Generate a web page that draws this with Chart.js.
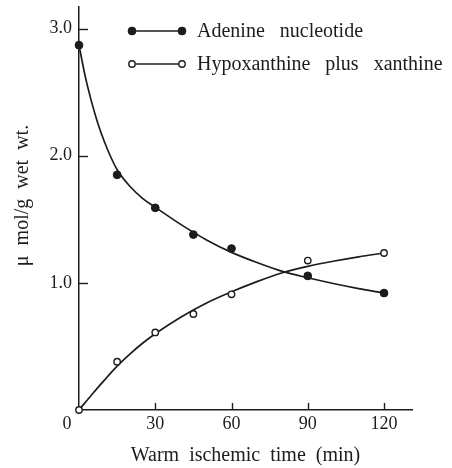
<!DOCTYPE html>
<html>
<head>
<meta charset="utf-8">
<script src="https://cdn.jsdelivr.net/npm/chart.js@4"></script>
<style>
html,body{margin:0;padding:0;background:#fff;}
#wrap{position:relative;width:452px;height:468px;}
</style>
</head>
<body>
<div id="wrap"><canvas id="c" width="452" height="468"></canvas></div>
<script>
// ---- data ----
const timeMin = [0, 15, 30, 45, 60, 90, 120];
const adenineNucleotide = [2.87, 1.85, 1.59, 1.38, 1.27, 1.055, 0.92];
const hypoxanthineXanthine = [0, 0.38, 0.61, 0.755, 0.91, 1.175, 1.235];

const curveTimeA = [0, 2.5, 5, 7.5, 10, 12.5, 15, 20, 25, 30, 40, 50, 60, 70, 80, 90, 100, 110, 120];
const adenineCurve = [2.87, 2.62, 2.42, 2.25, 2.11, 1.99, 1.89, 1.76, 1.665, 1.595, 1.46, 1.34, 1.24, 1.16, 1.09, 1.04, 0.995, 0.955, 0.92];
const curveTimeH = [0, 5, 10, 15, 20, 25, 30, 40, 50, 60, 70, 80, 90, 100, 110, 120];
const hypoxanthineCurve = [0, 0.12, 0.235, 0.345, 0.44, 0.525, 0.60, 0.73, 0.84, 0.93, 1.01, 1.08, 1.13, 1.17, 1.205, 1.235];

const xTicks = [0, 30, 60, 90, 120];
const yTicks = [0, 1, 2, 3];
const xRange = [0, 131];
const yRange = [0, 3.17];

const seriesLabels = ['Adenine   nucleotide', 'Hypoxanthine   plus   xanthine'];
const xTitle = 'Warm  ischemic  time  (min)';
const yTitle = 'μ  mol/g  wet  wt.';

// ---- styling ----
const INK = '#1c1c1c';
const SERIF = '"Liberation Serif", "Times New Roman", serif';

const toXY = (xs, ys) => xs.map((x, i) => ({x, y: ys[i]}));

const decorPlugin = {
  id: 'decor',
  afterDraw(chart) {
    const ctx = chart.ctx;
    const xs = chart.scales.x, ys = chart.scales.y;
    const area = chart.chartArea;
    ctx.save();
    // inward tick marks
    ctx.strokeStyle = INK;
    ctx.lineWidth = 1.4;
    ys.ticks.forEach(t => {
      if (t.value === 0) return;
      const p = Math.round(ys.getPixelForValue(t.value)) + 0.5;
      ctx.beginPath(); ctx.moveTo(area.left, p); ctx.lineTo(area.left + 9, p); ctx.stroke();
    });
    xs.ticks.forEach(t => {
      if (t.value === 0) return;
      const p = Math.round(xs.getPixelForValue(t.value)) + 0.5;
      ctx.beginPath(); ctx.moveTo(p, area.bottom); ctx.lineTo(p, area.bottom - 7); ctx.stroke();
    });
    // origin "0" label
    ctx.fillStyle = INK;
    ctx.font = '18px ' + SERIF;
    ctx.textAlign = 'center';
    ctx.textBaseline = 'middle';
    ctx.fillText(String(xTicks[0]), xs.getPixelForValue(xTicks[0]) - 12, area.bottom + 14);
    // y axis title
    ctx.save();
    ctx.translate(23, (area.top + area.bottom) / 2 - 13);
    ctx.rotate(-Math.PI / 2);
    ctx.font = '20px ' + SERIF;
    ctx.fillText(yTitle, 0, 0);
    ctx.restore();
    // legend
    const items = [chart.data.datasets[0], chart.data.datasets[1]];
    const rows = [area.top + 24, area.top + 57];
    items.forEach((ds, i) => {
      const y = rows[i];
      const x1 = area.left + 53, x2 = area.left + 103;
      ctx.strokeStyle = INK; ctx.lineWidth = 1.6;
      ctx.beginPath(); ctx.moveTo(x1, y); ctx.lineTo(x2, y); ctx.stroke();
      [x1, x2].forEach(px => {
        ctx.beginPath();
        ctx.arc(px, y, ds.pointRadius, 0, Math.PI * 2);
        ctx.fillStyle = ds.pointBackgroundColor;
        ctx.fill();
        ctx.lineWidth = ds.pointBorderWidth;
        ctx.strokeStyle = ds.pointBorderColor;
        ctx.stroke();
      });
      ctx.fillStyle = INK;
      ctx.font = '20px ' + SERIF;
      ctx.textAlign = 'left';
      ctx.textBaseline = 'middle';
      ctx.fillText(ds.label, area.left + 118, y + 1);
    });
    ctx.restore();
  }
};

new Chart(document.getElementById('c'), {
  type: 'scatter',
  data: {
    datasets: [
      {
        label: seriesLabels[0],
        data: toXY(timeMin, adenineNucleotide),
        showLine: false,
        pointRadius: 3.9,
        pointBackgroundColor: INK,
        pointBorderColor: INK,
        pointBorderWidth: 1,
        clip: false
      },
      {
        label: seriesLabels[1],
        data: toXY(timeMin, hypoxanthineXanthine),
        showLine: false,
        pointRadius: 3.2,
        pointBackgroundColor: '#ffffff',
        pointBorderColor: INK,
        pointBorderWidth: 1.4,
        clip: false
      },
      {
        label: 'adenine curve',
        data: toXY(curveTimeA, adenineCurve),
        showLine: true,
        pointRadius: 0,
        borderColor: INK,
        borderWidth: 1.7,
        cubicInterpolationMode: 'monotone',
        clip: false
      },
      {
        label: 'hypoxanthine curve',
        data: toXY(curveTimeH, hypoxanthineCurve),
        showLine: true,
        pointRadius: 0,
        borderColor: INK,
        borderWidth: 1.7,
        cubicInterpolationMode: 'monotone',
        clip: false
      }
    ]
  },
  options: {
    responsive: false,
    animation: false,
    events: [],
    layout: { padding: { top: 7, right: 40, bottom: 0, left: 0 } },
    plugins: { legend: { display: false }, tooltip: { enabled: false } },
    scales: {
      x: {
        type: 'linear',
        min: xRange[0], max: xRange[1],
        afterBuildTicks: s => { s.ticks = xTicks.map(v => ({value: v})); },
        afterFit: s => { s.height = 58; s.paddingLeft = 0; s.paddingRight = 0; },
        grid: { drawOnChartArea: false, drawTicks: false, color: INK },
        border: { display: true, color: INK, width: 1.5 },
        ticks: {
          color: INK, padding: 3, maxRotation: 0, autoSkip: false,
          font: { family: SERIF, size: 18 },
          callback: v => (v === 0 ? '' : String(v))
        },
        title: {
          display: true, text: xTitle, color: INK,
          font: { family: SERIF, size: 20 },
          padding: { top: 0, bottom: 0 }
        }
      },
      y: {
        type: 'linear',
        min: yRange[0], max: yRange[1],
        afterBuildTicks: s => { s.ticks = yTicks.map(v => ({value: v})); },
        afterFit: s => { s.width = 79; s.paddingTop = 0; s.paddingBottom = 0; },
        grid: { drawOnChartArea: false, drawTicks: false, color: INK },
        border: { display: true, color: INK, width: 1.5 },
        ticks: {
          color: INK, padding: 7, autoSkip: false,
          font: { family: SERIF, size: 18 },
          callback: v => (v === 0 ? '' : Number(v).toFixed(1))
        }
      }
    }
  },
  plugins: [decorPlugin]
});
</script>
</body>
</html>
